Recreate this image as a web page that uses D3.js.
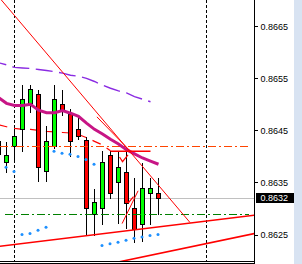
<!DOCTYPE html>
<html>
<head>
<meta charset="utf-8">
<script src="https://cdn.jsdelivr.net/npm/d3@7"></script>
<style>
html, body { margin: 0; padding: 0; background: #fff; }
svg { display: block; }
</style>
</head>
<body>
<div id="chart"></div>
<script>
var width = 302;
var height = 264;
var plotRight = 254;
var plotBottom = 261;

// candles, bar 0 is the one cut off at the left edge
var opens  = [0.86428, 0.86389, 0.86419, 0.86451, 0.86501, 0.86519, 0.86371, 0.86420, 0.86500, 0.86480, 0.86451,
              0.86430, 0.86289, 0.86300, 0.86401, 0.86350, 0.86370, 0.86300, 0.86270, 0.86329, 0.86329];
var highs  = [0.86432, 0.86428, 0.86454, 0.86538, 0.86539, 0.86529, 0.86460, 0.86539, 0.86529, 0.86493, 0.86475,
              0.86439, 0.86339, 0.86411, 0.86411, 0.86411, 0.86411, 0.86360, 0.86389, 0.86360, 0.86360];
var lows   = [0.86397, 0.86370, 0.86388, 0.86409, 0.86485, 0.86351, 0.86351, 0.86416, 0.86478, 0.86399, 0.86432,
              0.86249, 0.86249, 0.86270, 0.86319, 0.86272, 0.86261, 0.86234, 0.86237, 0.86270, 0.86289];
var closes = [0.86403, 0.86401, 0.86439, 0.86510, 0.86529, 0.86379, 0.86428, 0.86510, 0.86487, 0.86428, 0.86438,
              0.86300, 0.86311, 0.86389, 0.86329, 0.86379, 0.86310, 0.86260, 0.86339, 0.86339, 0.86320];

// indicators (one value per bar)
var maPurple  = [0.86580, 0.86576, 0.86571, 0.86570, 0.86569, 0.86567, 0.86565, 0.86563, 0.86560, 0.86556,
                 0.86554, 0.86550, 0.86544, 0.86537, 0.86531, 0.86526, 0.86522, 0.86515, 0.86510, 0.86505];
var maMagenta = [0.86513, 0.86502, 0.86498, 0.86498, 0.86500, 0.86489, 0.86484, 0.86484, 0.86488, 0.86483, 0.86477,
                 0.86464, 0.86452, 0.86443, 0.86433, 0.86424, 0.86413, 0.86405, 0.86397, 0.86391, 0.86385];
var maRed     = [0.86461, 0.86457, 0.86454, 0.86452, 0.86452, 0.86450, 0.86448, 0.86447, 0.86446, 0.86445,
                 0.86442, 0.86436, 0.86429, 0.86422, 0.86411];
var dots      = [null, 0.86379, 0.86371, 0.86250, 0.86252, 0.86258, 0.86264, 0.86410, 0.86406, 0.86404, 0.86400,
                 0.86394, 0.86385, 0.86229, 0.86232, 0.86235, 0.86239, 0.86243, 0.86245, 0.86248, 0.86250];

// chart objects as [bar, price]
var trendMain  = [[0, 0.86707], [23.94, 0.86273]];
var trendLow   = [[0, 0.86227], [32, 0.86287]];
var trendLow2  = [[14, 0.86194], [32, 0.86252]];
var trendShort = [[12.3, 0.86476], [16.55, 0.86409]];
var trendUp    = [[15.45, 0.86271], [17.45, 0.86334]];
var levelShort = [[14, 0.86410], [19, 0.86410]];
var checkHigh  = [[15.13, 0.86399], [15.5, 0.86390], [16.19, 0.86403]];
var checkLow   = [[15.88, 0.86320], [16.25, 0.86311], [16.88, 0.86323]];
var levelOrange = 0.86420;
var levelGreen  = 0.86289;
var bid = 0.8632;
var separators = [2, 26];
var priceTicks = [0.8625, 0.8635, 0.8645, 0.8655, 0.8665];

var x = d3.scaleLinear().domain([0, 32]).range([-1.5, 254.5]);
var y = d3.scaleLinear().domain([0.8625, 0.8665]).range([234.5, 26.3]);
function cy(v) { return Math.round(y(v) - 0.5) + 0.5; }

var svg = d3.select("#chart").append("svg")
    .attr("width", width)
    .attr("height", height);

svg.append("rect").attr("width", width).attr("height", height).attr("fill", "#fff");
svg.append("rect").attr("x", 294).attr("width", 8).attr("height", height).attr("fill", "#d8e3f2");

svg.append("clipPath").attr("id", "plot")
  .append("rect").attr("width", plotRight).attr("height", plotBottom);

var g = svg.append("g").attr("clip-path", "url(#plot)");

// bid line
g.append("line")
  .attr("x1", 0).attr("x2", plotRight)
  .attr("y1", cy(bid)).attr("y2", cy(bid))
  .attr("stroke", "#c0c0c0").attr("shape-rendering", "crispEdges");

// period separators
g.selectAll("line.sep")
  .data(separators)
  .enter()
  .append("line")
  .attr("class", "sep")
  .attr("x1", d => x(d)).attr("x2", d => x(d))
  .attr("y1", 0).attr("y2", plotBottom)
  .attr("stroke", "#000").attr("stroke-dasharray", "3,2")
  .attr("shape-rendering", "crispEdges");

var maLine = d3.line().x((d, i) => x(i)).y(d => y(d));

// thin red MA sits under the candles
g.append("path").attr("d", maLine(maRed))
  .attr("fill", "none").attr("stroke", "#ff0000").attr("stroke-width", 1.2)
  .attr("stroke-dasharray", "9,7");

// candles
var idx = d3.range(opens.length);
g.selectAll("line.wick")
  .data(idx)
  .enter()
  .append("line")
  .attr("class", "wick")
  .attr("x1", i => x(i)).attr("x2", i => x(i))
  .attr("y1", i => cy(highs[i])).attr("y2", i => cy(lows[i]))
  .attr("stroke", "#000").attr("shape-rendering", "crispEdges");

g.selectAll("rect.body")
  .data(idx)
  .enter()
  .append("rect")
  .attr("class", "body")
  .attr("x", i => x(i) - 2)
  .attr("width", 4)
  .attr("y", i => Math.min(cy(opens[i]), cy(closes[i])))
  .attr("height", i => Math.max(1, Math.abs(cy(opens[i]) - cy(closes[i]))))
  .attr("fill", i => closes[i] >= opens[i] ? "#00ff00" : "#ff0000")
  .attr("stroke", "#000")
  .attr("shape-rendering", "crispEdges");

// horizontal levels
[[levelOrange, "#ff4500"], [levelGreen, "#008000"]].forEach(function(l) {
  g.append("line")
    .attr("x1", l[0] === levelGreen ? 5 : 0).attr("x2", 249)
    .attr("y1", cy(l[0])).attr("y2", cy(l[0]))
    .attr("stroke", l[1]).attr("stroke-dasharray", "8,3,2,3")
    .attr("shape-rendering", "crispEdges");
});

// moving averages
g.append("path").attr("d", maLine(maPurple))
  .attr("fill", "none").attr("stroke", "#8a2be2").attr("stroke-width", 1.4)
  .attr("stroke-dasharray", "17,6.5").attr("stroke-dashoffset", 9);
g.append("path").attr("d", maLine(maMagenta))
  .attr("fill", "none").attr("stroke", "#c71585").attr("stroke-width", 3);

// blue dots
g.selectAll("circle")
  .data(idx.filter(i => dots[i] != null))
  .enter()
  .append("circle")
  .attr("cx", i => x(i) - 0.5)
  .attr("cy", i => y(dots[i]))
  .attr("r", 1.5)
  .attr("fill", "#1e90ff");

// trendlines and marks
var objLine = d3.line().x(d => x(d[0])).y(d => y(d[1]));
[[trendMain, 1], [trendLow, 1.6], [trendLow2, 1.6], [trendShort, 1], [trendUp, 1],
 [levelShort, 1.5], [checkHigh, 1.2], [checkLow, 1.2]].forEach(function(t) {
  g.append("path").attr("d", objLine(t[0]))
    .attr("fill", "none").attr("stroke", "#ff0000").attr("stroke-width", t[1]);
});

// frame
svg.append("line").attr("x1", 254.5).attr("x2", 254.5).attr("y1", 0).attr("y2", height)
  .attr("stroke", "#000").attr("shape-rendering", "crispEdges");
[261.5, 263.5].forEach(function(yy) {
  svg.append("line").attr("x1", 0).attr("x2", 254.5).attr("y1", yy).attr("y2", yy)
    .attr("stroke", "#000").attr("shape-rendering", "crispEdges");
});

// price axis
var axis = svg.append("g")
  .attr("transform", "translate(254.5,0)")
  .call(d3.axisRight(y).tickValues(priceTicks).tickSize(3).tickPadding(3).tickFormat(d3.format(".4f")));
axis.select(".domain").remove();
axis.selectAll("line").attr("shape-rendering", "crispEdges");
axis.selectAll("text")
  .attr("font-family", "Liberation Sans, Arial, sans-serif")
  .attr("font-size", "9px")
  .attr("fill", "#000");

// bid label
svg.append("rect").attr("x", 256).attr("y", cy(bid) - 5.5).attr("width", 38).attr("height", 10)
  .attr("fill", "#000");
svg.append("text").attr("x", 260.5).attr("y", y(bid)).attr("dy", "0.32em")
  .attr("font-family", "Liberation Sans, Arial, sans-serif").attr("font-size", "9px")
  .attr("fill", "#fff").text(d3.format(".4f")(bid));
</script>
</body>
</html>
